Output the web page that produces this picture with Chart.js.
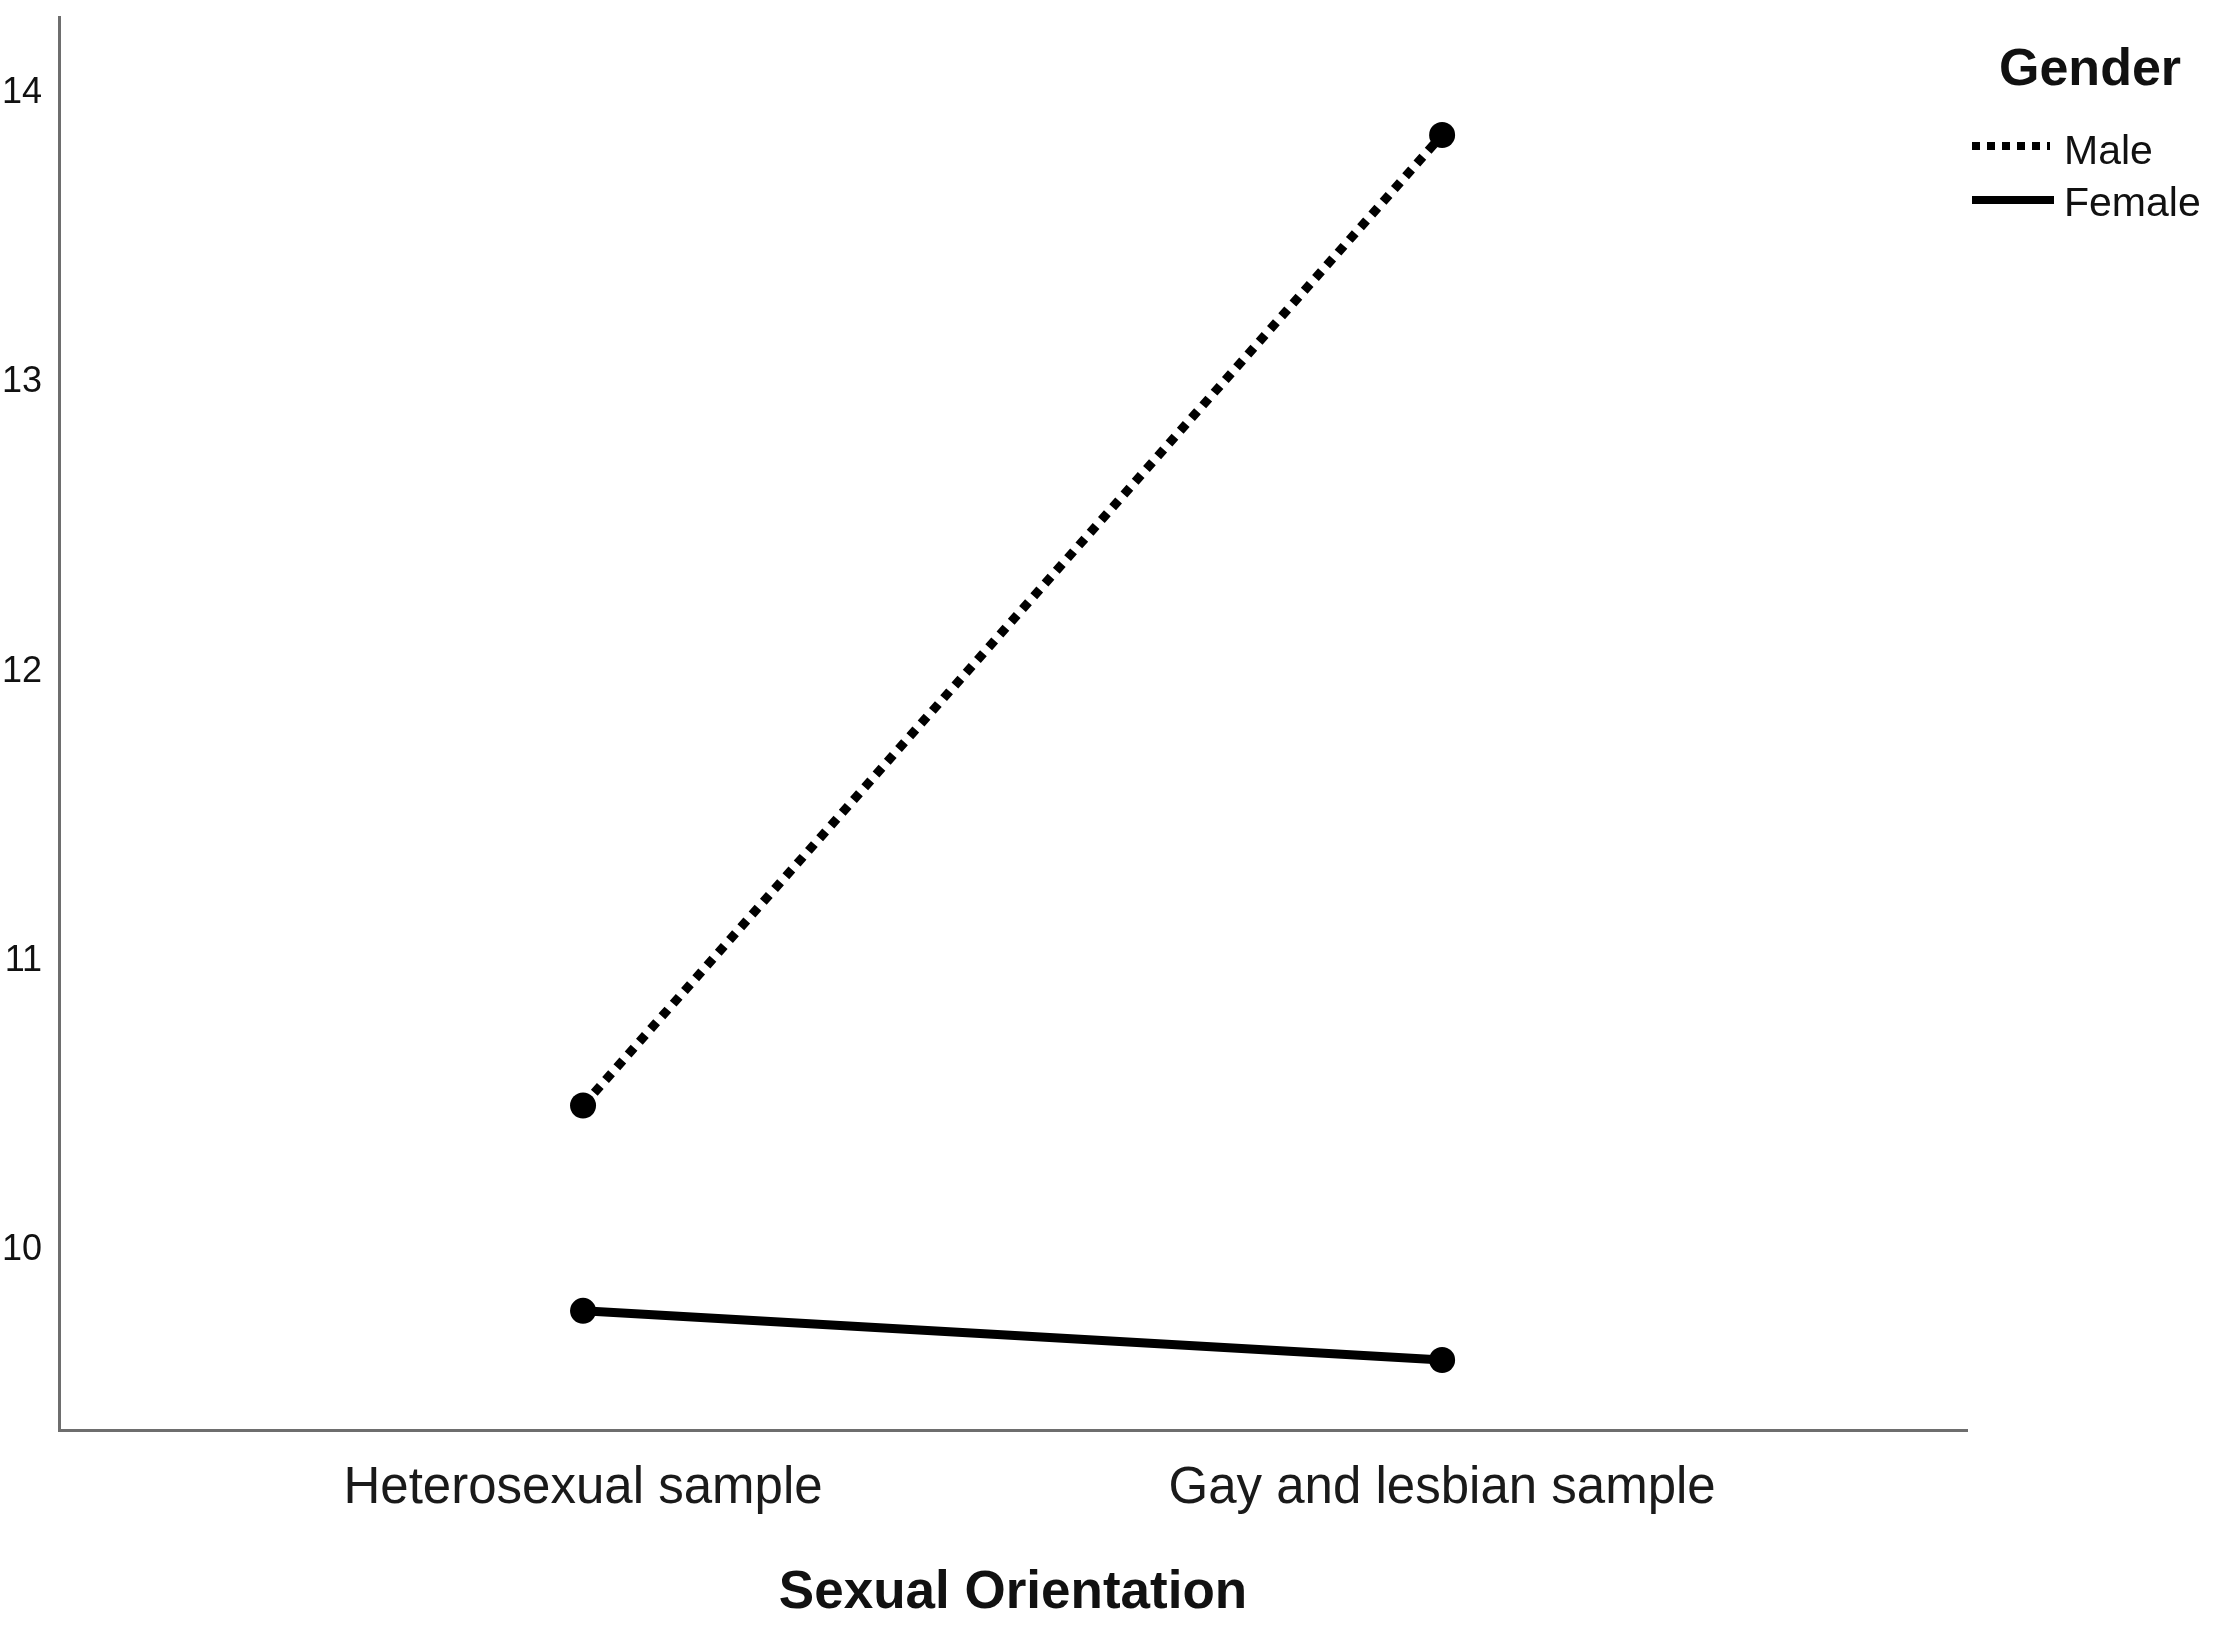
<!DOCTYPE html>
<html>
<head>
<meta charset="utf-8">
<script src="https://cdn.jsdelivr.net/npm/chart.js@4/dist/chart.umd.min.js"></script>
<style>
  html, body { margin: 0; padding: 0; background: #ffffff; }
  #wrap { width: 2217px; height: 1626px; position: relative; }
</style>
</head>
<body>
<div id="wrap"><canvas id="c" width="2217" height="1626"></canvas></div>
<script>
// ---- data ----
const categories = ['Heterosexual sample', 'Gay and lesbian sample'];
const maleValues = [10.50, 13.855];
const femaleValues = [9.79, 9.62];
const yTickValues = [10, 11, 12, 13, 14];
const seriesNames = ['Male', 'Female'];
const legendTitle = 'Gender';
const xAxisTitle = 'Sexual Orientation';

const FONT = "'Liberation Sans', Arial, Helvetica, sans-serif";
const INK = '#111111';

function toPoints(vals) { return vals.map((v, i) => ({ x: i, y: v })); }

const legendPlugin = {
  id: 'customLegend',
  afterDraw(chart) {
    const ctx = chart.ctx;
    ctx.save();
    ctx.fillStyle = INK;
    ctx.textBaseline = 'middle';
    ctx.textAlign = 'left';
    ctx.font = "bold 52px " + FONT;
    ctx.fillText(legendTitle, 1999, 71);
    ctx.font = "41px " + FONT;
    ctx.fillText(seriesNames[0], 2064, 153);
    ctx.fillText(seriesNames[1], 2064, 205);
    ctx.strokeStyle = '#000';
    ctx.lineWidth = 8;
    ctx.lineCap = 'butt';
    ctx.setLineDash([8, 7]);
    ctx.beginPath(); ctx.moveTo(1972, 146); ctx.lineTo(2050, 146); ctx.stroke();
    ctx.setLineDash([]);
    ctx.beginPath(); ctx.moveTo(1972, 200); ctx.lineTo(2054, 200); ctx.stroke();
    ctx.restore();
  }
};

new Chart(document.getElementById('c'), {
  type: 'line',
  data: {
    datasets: [
      {
        label: seriesNames[0],
        data: toPoints(maleValues),
        borderColor: '#000',
        backgroundColor: '#000',
        borderWidth: 9,
        borderDash: [9, 8],
        pointRadius: 13,
        pointBorderWidth: 0,
        pointBackgroundColor: '#000',
        tension: 0
      },
      {
        label: seriesNames[1],
        data: toPoints(femaleValues),
        borderColor: '#000',
        backgroundColor: '#000',
        borderWidth: 9,
        pointRadius: 13,
        pointBorderWidth: 0,
        pointBackgroundColor: '#000',
        tension: 0
      }
    ]
  },
  options: {
    responsive: false,
    animation: false,
    devicePixelRatio: 1,
    layout: { padding: { left: 0, top: 17, right: 250, bottom: 0 } },
    plugins: {
      legend: { display: false },
      tooltip: { enabled: false },
      title: { display: false }
    },
    scales: {
      x: {
        type: 'linear',
        min: -0.61,
        max: 1.611,
        grid: { display: false, drawTicks: false },
        border: { display: true, color: '#6e6e6e', width: 3 },
        afterBuildTicks(scale) { scale.ticks = categories.map((c, i) => ({ value: i })); },
        afterFit(scale) { scale.height = 196; scale.paddingLeft = 0; scale.paddingRight = 0; },
        ticks: {
          autoSkip: false,
          maxRotation: 0,
          padding: 28,
          color: '#1a1a1a',
          font: { family: FONT, size: 51 },
          callback: (v) => categories[v] !== undefined ? categories[v] : ''
        },
        title: {
          display: true,
          text: xAxisTitle,
          color: INK,
          font: { family: FONT, size: 53, weight: 'bold' },
          padding: { top: 0, bottom: 1 }
        }
      },
      y: {
        type: 'linear',
        min: 9.378,
        max: 14.263,
        grid: { display: false, drawTicks: false },
        border: { display: true, color: '#6e6e6e', width: 3 },
        afterBuildTicks(scale) { scale.ticks = yTickValues.map(v => ({ value: v })); },
        afterFit(scale) { scale.width = 59; scale.paddingTop = 0; scale.paddingBottom = 0; },
        ticks: {
          padding: 17,
          color: '#111111',
          font: { family: FONT, size: 36 }
        }
      }
    }
  },
  plugins: [legendPlugin]
});
</script>
</body>
</html>
